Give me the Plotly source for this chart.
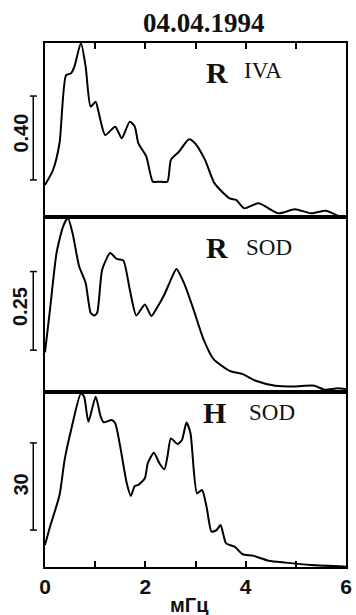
import plotly.graph_objects as go
from plotly.subplots import make_subplots

# --- data (frequency in mHz, relative spectral amplitude as fraction of panel height) ---
x_r_iva = [0, 0.16, 0.29, 0.42, 0.52, 0.586, 0.716, 0.81, 0.91, 1.01, 1.07, 1.2, 1.4, 1.53, 1.69, 1.79,
           1.86, 2.02, 2.15, 2.28, 2.44, 2.51, 2.67, 2.87, 2.99, 3.19, 3.38, 3.68, 3.81, 3.97, 4.26,
           4.65, 4.98, 5.31, 5.6, 5.89, 6.0]
y_r_iva = [0.184, 0.27, 0.425, 0.816, 0.826, 0.864, 1.0, 0.864, 0.634, 0.663, 0.6, 0.471, 0.519, 0.452,
           0.548, 0.519, 0.424, 0.347, 0.203, 0.203, 0.203, 0.328, 0.375, 0.447, 0.424, 0.328, 0.193,
           0.107, 0.098, 0.05, 0.079, 0.021, 0.044, 0.021, 0.036, 0.002, 0.0]

x_r_sod = [0, 0.1, 0.23, 0.36, 0.455, 0.55, 0.68, 0.81, 0.91, 0.98, 1.04, 1.14, 1.3, 1.43, 1.56, 1.69,
           1.82, 1.99, 2.12, 2.25, 2.38, 2.51, 2.62, 2.77, 2.96, 3.16, 3.36, 3.68, 3.94, 4.2, 4.59,
           4.98, 5.37, 5.57, 5.83, 6.0]
y_r_sod = [0.226, 0.472, 0.794, 0.945, 0.995, 0.907, 0.718, 0.623, 0.453, 0.437, 0.453, 0.699, 0.794,
           0.76, 0.752, 0.585, 0.437, 0.5, 0.434, 0.49, 0.557, 0.642, 0.703, 0.623, 0.472, 0.301,
           0.188, 0.121, 0.102, 0.064, 0.036, 0.032, 0.036, 0.013, 0.021, 0.017]

x_h_sod = [0, 0.1, 0.29, 0.39, 0.52, 0.716, 0.78, 0.865, 1.01, 1.11, 1.17, 1.33, 1.4, 1.5, 1.63, 1.71,
           1.79, 1.86, 1.99, 2.05, 2.17, 2.28, 2.38, 2.44, 2.51, 2.64, 2.73, 2.82, 2.9, 3.03, 3.13,
           3.22, 3.32, 3.42, 3.5, 3.61, 3.78, 3.94, 4.14, 4.46, 4.79, 5.31, 6.0]
y_h_sod = [0.126, 0.23, 0.411, 0.611, 0.783, 0.993, 0.973, 0.83, 0.973, 0.859, 0.827, 0.84, 0.821,
           0.687, 0.478, 0.406, 0.463, 0.469, 0.507, 0.593, 0.653, 0.593, 0.558, 0.63, 0.735, 0.703,
           0.726, 0.825, 0.764, 0.421, 0.44, 0.345, 0.202, 0.211, 0.24, 0.135, 0.116, 0.073, 0.065,
           0.036, 0.025, 0.011, 0.002]

x_tick_vals = [0, 1, 2, 3, 4, 5, 6]
x_tick_text = ["0", "", "2", "", "4", "", "6"]
title_text = "04.04.1994"
x_title = "мГц"
panel_comp = ["R", "R", "H"]
panel_station = ["IVA", "SOD", "SOD"]
scale_labels = ["0.40", "0.25", "30"]

fig = make_subplots(rows=3, cols=1, shared_xaxes=True, vertical_spacing=0)

series = [(x_r_iva, y_r_iva), (x_r_sod, y_r_sod), (x_h_sod, y_h_sod)]
for i, (xs, ys) in enumerate(series, start=1):
    fig.add_trace(go.Scatter(x=xs, y=ys, mode="lines",
                             line=dict(color="black", width=2, shape="spline", smoothing=0.6),
                             showlegend=False, hoverinfo="skip"), row=i, col=1)

domains = [[0.668, 1.0], [0.334, 0.668], [0.0, 0.334]]
for i in range(1, 4):
    ax = "yaxis" if i == 1 else f"yaxis{i}"
    xa = "xaxis" if i == 1 else f"xaxis{i}"
    fig.layout[ax].update(domain=domains[i - 1], range=[0, 1.0], showticklabels=False, ticks="",
                          showgrid=False, zeroline=False, showline=True, linecolor="black",
                          linewidth=2, mirror=True)
    fig.layout[xa].update(range=[0, 6], showgrid=False, zeroline=False, showline=True,
                          linecolor="black", linewidth=2, mirror=True, showticklabels=False,
                          ticks="")

# top ticks on panel 1
fig.layout.xaxis.update(side="top", ticks="inside", ticklen=6, tickwidth=1.5, tickcolor="black",
                        tickvals=x_tick_vals)
# bottom ticks and labels on panel 3
fig.layout.xaxis3.update(ticks="inside", ticklen=6, tickwidth=1.5, tickcolor="black",
                         tickvals=x_tick_vals, ticktext=x_tick_text, showticklabels=True,
                         tickfont=dict(family="Liberation Sans", size=21, color="#111",
                                       weight="bold"))

annotations = []
shapes = []
comp_pos = [(0.57, 0.833), (0.57, 0.824), (0.564, 0.88)]
stat_pos = [(0.723, 0.84), (0.743, 0.824), (0.755, 0.88)]
bar_pos = [(0.213, 0.695), (0.239, 0.688), (0.211, 0.709)]
lab_pos = [0.483, 0.489, 0.469]
for i in range(3):
    xr = "x domain" if i == 0 else f"x{i+1} domain"
    yr = "y domain" if i == 0 else f"y{i+1} domain"
    annotations.append(dict(text=f"<b>{panel_comp[i]}</b>", x=comp_pos[i][0], y=comp_pos[i][1],
                            xref=xr, yref=yr, showarrow=False, xanchor="center", yanchor="middle",
                            font=dict(family="Liberation Serif", size=30, color="#111")))
    annotations.append(dict(text=panel_station[i], x=stat_pos[i][0], y=stat_pos[i][1],
                            xref=xr, yref=yr, showarrow=False, xanchor="center", yanchor="middle",
                            font=dict(family="Liberation Serif", size=23, color="#111")))
    annotations.append(dict(text=f"<b>{scale_labels[i]}</b>", x=-0.081, y=lab_pos[i],
                            xref=xr, yref=yr, showarrow=False, textangle=-90,
                            xanchor="center", yanchor="middle",
                            font=dict(family="Liberation Sans", size=20, color="#111")))
    y0, y1 = bar_pos[i]
    shapes.append(dict(type="line", xref=xr, yref=yr, x0=-0.039, x1=-0.039, y0=y0, y1=y1,
                       line=dict(color="black", width=1.5)))
    for yy in (y0, y1):
        shapes.append(dict(type="line", xref=xr, yref=yr, x0=-0.05, x1=-0.027, y0=yy, y1=yy,
                           line=dict(color="black", width=1.5)))

# title (centre at x=207px, y=23px)
annotations.append(dict(text=f"<b>{title_text}</b>", x=(207 - 45) / 307, y=1 + (43 - 23) / 524,
                        xref="paper", yref="paper", showarrow=False,
                        xanchor="center", yanchor="middle",
                        font=dict(family="Liberation Serif", size=27, color="#111")))
# x-axis title (centre at x=192px, y=606px)
annotations.append(dict(text=f"<b>{x_title}</b>", x=(192 - 45) / 307, y=-(605 - 567) / 524,
                        xref="paper", yref="paper", showarrow=False,
                        xanchor="center", yanchor="middle",
                        font=dict(family="Liberation Sans", size=20, color="#111")))

fig.update_layout(width=356, height=615, margin=dict(l=45, r=4, t=43, b=48),
                  paper_bgcolor="white", plot_bgcolor="white",
                  annotations=annotations, shapes=shapes)

fig.write_html("out.html")
